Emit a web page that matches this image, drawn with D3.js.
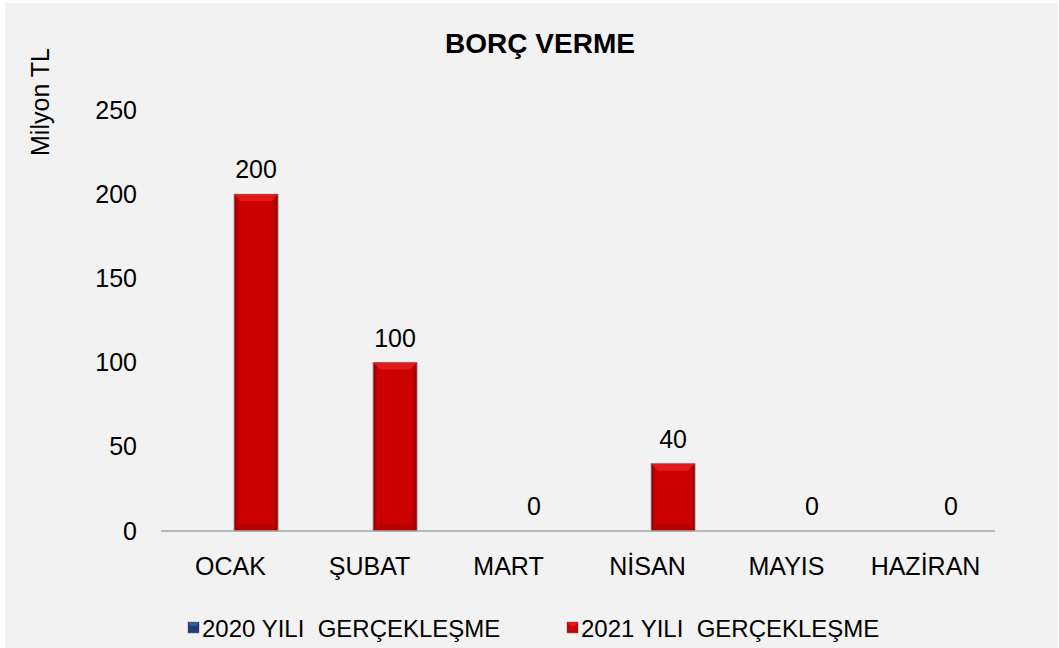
<!DOCTYPE html>
<html>
<head>
<meta charset="utf-8">
<script src="https://cdn.jsdelivr.net/npm/d3@7"></script>
<style>
  body { margin: 0; background: #ffffff; }
  text { font-family: "Liberation Sans", Arial, sans-serif; fill: #000; }
</style>
</head>
<body>
<div id="chart"></div>
<script>
// chart data
var months = ["OCAK", "ŞUBAT", "MART", "NİSAN", "MAYIS", "HAZİRAN"];
var seriesNames = ["2020 YILI  GERÇEKLEŞME", "2021 YILI  GERÇEKLEŞME"];
var values2020 = [0, 0, 0, 0, 0, 0];
var values2021 = [200, 100, 0, 40, 0, 0];
var yTicks = [0, 50, 100, 150, 200, 250];

var w = 1059, h = 648;
var plotLeft = 161, plotRight = 995, plotTop = 110, plotBottom = 531;
var fs = "25px";

var svg = d3.select("#chart").append("svg")
    .attr("width", w)
    .attr("height", h);

var defs = svg.append("defs");

// bevelled look of the bars
function addGrad(id, dark, mid) {
    var g = defs.append("linearGradient").attr("id", id)
        .attr("x1", "0%").attr("x2", "100%").attr("y1", "0%").attr("y2", "0%");
    g.append("stop").attr("offset", "0%").attr("stop-color", dark);
    g.append("stop").attr("offset", "12%").attr("stop-color", mid);
    g.append("stop").attr("offset", "88%").attr("stop-color", mid);
    g.append("stop").attr("offset", "100%").attr("stop-color", dark);
}
addGrad("gRed", "#8e0000", "#cc0000");
addGrad("gBlue", "#0f2550", "#1f3f7a");

var colors = [{fill: "url(#gBlue)", top: "#3a5a96"},
              {fill: "url(#gRed)", top: "#e01a1a"}];

// background panel
svg.append("rect")
    .attr("x", 5).attr("y", 3)
    .attr("width", 1053).attr("height", 645)
    .attr("fill", "#f2f2f2");

var xScale = d3.scaleBand().domain(months).range([plotLeft, plotRight]);
var xInner = d3.scaleBand().domain([0, 1]).range([0, xScale.bandwidth()])
    .paddingOuter(0.58).align(0.57);
var yScale = d3.scaleLinear().domain([0, 250]).range([plotBottom, plotTop]);

// title
svg.append("text")
    .attr("x", 540).attr("y", 53)
    .attr("text-anchor", "middle")
    .style("font-size", "28px")
    .style("font-weight", "bold")
    .text("BORÇ VERME");

// y axis title
svg.append("text")
    .attr("transform", "translate(49,102) rotate(-90)")
    .attr("text-anchor", "middle")
    .style("font-size", fs)
    .text("Milyon TL");

// y axis (labels only)
var yAxis = d3.axisLeft(yScale).tickValues(yTicks).tickSize(0).tickPadding(0);
var yG = svg.append("g")
    .attr("transform", "translate(137,0)")
    .call(yAxis);
yG.select(".domain").remove();
yG.selectAll("text")
    .style("font-size", fs)
    .style("font-family", "Liberation Sans, Arial, sans-serif")
    .attr("fill", "#000");

// bars
var allSeries = [values2020, values2021];
allSeries.forEach(function(vals, si) {
    var g = svg.append("g");
    vals.forEach(function(v, i) {
        if (v <= 0) return;
        var x0 = xScale(months[i]) + xInner(si);
        var bw = xInner.bandwidth();
        var y0 = yScale(v);
        var bh = yScale(0) - y0;
        g.append("rect")
            .attr("x", x0).attr("y", y0)
            .attr("width", bw).attr("height", bh)
            .attr("fill", colors[si].fill)
            .attr("stroke", "#9a8a8a")
            .attr("stroke-width", 0.8);
        // top bevel
        var b = 7;
        g.append("polygon")
            .attr("points", [[x0, y0], [x0 + bw, y0], [x0 + bw - b, y0 + b], [x0 + b, y0 + b]].join(" "))
            .attr("fill", colors[si].top);
        // bottom shade
        g.append("polygon")
            .attr("points", [[x0 + b, y0 + bh - b], [x0 + bw - b, y0 + bh - b], [x0 + bw, y0 + bh], [x0, y0 + bh]].join(" "))
            .attr("fill", "#a00000")
            .attr("opacity", 0.5);
    });
});

// data labels of 2021
svg.append("g").selectAll("text")
    .data(values2021)
    .join("text")
    .attr("x", function(d, i) { return xScale(months[i]) + xInner(1) + xInner.bandwidth() / 2; })
    .attr("y", function(d) { return yScale(d) - 16; })
    .attr("text-anchor", "middle")
    .style("font-size", fs)
    .text(function(d) { return d; });

// baseline
svg.append("line")
    .attr("x1", plotLeft).attr("x2", plotRight)
    .attr("y1", yScale(0)).attr("y2", yScale(0))
    .attr("stroke", "#a6a6a6")
    .attr("stroke-width", 1.5);

// x axis labels
var xAxis = d3.axisBottom(xScale).tickSize(0).tickPadding(0);
var xG = svg.append("g")
    .attr("transform", "translate(0," + plotBottom + ")")
    .call(xAxis);
xG.select(".domain").remove();
xG.selectAll("text")
    .style("font-size", fs)
    .style("font-family", "Liberation Sans, Arial, sans-serif")
    .attr("fill", "#000")
    .attr("y", 44)
    .attr("dy", 0);

// legend
var legendX = [188, 567];
seriesNames.forEach(function(name, si) {
    var lg = svg.append("g").attr("transform", "translate(" + legendX[si] + ",622)");
    lg.append("rect")
        .attr("width", 11).attr("height", 11)
        .attr("fill", colors[si].fill)
        .attr("stroke", "#777").attr("stroke-width", 0.5);
    lg.append("polygon")
        .attr("points", "0,0 11,0 8,4 3,4")
        .attr("fill", colors[si].top);
    lg.append("text")
        .attr("x", 14).attr("y", 15)
        .attr("xml:space", "preserve")
        .style("white-space", "pre")
        .style("font-size", "24px")
        .text(name);
});
</script>
</body>
</html>
